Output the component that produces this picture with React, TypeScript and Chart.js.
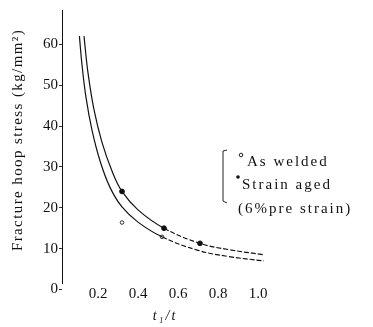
import React, { useEffect, useRef } from "react";
import { Chart, registerables } from "chart.js";

Chart.register(...registerables);

// Curve through "Strain aged (6% pre strain)" results (upper curve)
const strainAgedT = [0.13, 0.15, 0.18, 0.22, 0.27, 0.32, 0.4, 0.53, 0.71, 0.85, 1.03];
const strainAgedStress = [62, 53, 44, 36, 29, 24, 19.5, 15, 11.3, 9.8, 8.5];
// Curve through "As welded" results (lower curve)
const asWeldedT = [0.107, 0.12, 0.14, 0.17, 0.21, 0.26, 0.32, 0.4, 0.52, 0.7, 0.85, 1.03];
const asWeldedStress = [62, 55, 47, 39, 31.5, 25, 20.2, 16.5, 12.9, 9.6, 8.1, 7.0];
// Measured points
const strainAgedPointT = [0.32, 0.53, 0.71];
const strainAgedPointStress = [24, 15, 11.3];
const asWeldedPointT = [0.32, 0.52];
const asWeldedPointStress = [16.4, 12.9];

const xTicks = [0.2, 0.4, 0.6, 0.8, 1.0];
const yTicks = [0, 10, 20, 30, 40, 50, 60];

const yTitle = "Fracture hoop stress (kg/mm\u00B2)";
const xTitle = "t\u2081/t";
const legendLabels = ["As welded", "Strain aged", "(6%pre strain)"];

const SERIF = "'Liberation Serif', 'DejaVu Serif', serif";

const toXY = (xs: number[], ys: number[]) => xs.map((x, i) => ({ x, y: ys[i] }));

const decorPlugin = {
  id: "decor",
  afterDraw(chart: any) {
    const ctx = chart.ctx as CanvasRenderingContext2D;
    const area = chart.chartArea;
    ctx.save();
    ctx.fillStyle = "#111";
    ctx.strokeStyle = "#222";
    // y title
    ctx.font = `15px ${SERIF}`;
    (ctx as any).letterSpacing = "1.4px";
    ctx.textAlign = "center";
    ctx.textBaseline = "middle";
    ctx.save();
    ctx.translate(18, 140);
    ctx.rotate(-Math.PI / 2);
    ctx.fillText(yTitle, 0, 0);
    ctx.restore();
    // x title
    ctx.font = `italic 14px ${SERIF}`;
    (ctx as any).letterSpacing = "2px";
    ctx.fillText(xTitle, 165, 316);
    // legend
    const lx = area.right - 55;
    ctx.lineWidth = 1;
    ctx.beginPath();
    ctx.moveTo(lx + 4, 150);
    ctx.lineTo(lx, 151);
    ctx.lineTo(lx, 201);
    ctx.lineTo(lx + 4, 203);
    ctx.stroke();
    ctx.beginPath();
    ctx.arc(lx + 18, 155, 1.8, 0, Math.PI * 2);
    ctx.stroke();
    ctx.beginPath();
    ctx.arc(lx + 15, 177, 1.8, 0, Math.PI * 2);
    ctx.fill();
    ctx.font = `15px ${SERIF}`;
    (ctx as any).letterSpacing = "2px";
    ctx.textAlign = "left";
    ctx.textBaseline = "alphabetic";
    ctx.fillText(legendLabels[0], lx + 24, 166);
    ctx.fillText(legendLabels[1], lx + 19, 189);
    ctx.fillText(legendLabels[2], lx + 15, 213);
    ctx.restore();
  },
};

export default function App() {
  const ref = useRef<HTMLCanvasElement>(null);
  useEffect(() => {
    document.body.style.margin = "0";
    const dash = (c: any) => (c.p0.parsed.x > 0.5 ? [5, 2] : undefined);
    const chart = new Chart(ref.current!, {
      type: "scatter",
      data: {
        datasets: [
          {
            type: "line",
            data: toXY(strainAgedT, strainAgedStress),
            borderColor: "#111",
            borderWidth: 1.2,
            pointRadius: 0,
            tension: 0.4,
            segment: { borderDash: dash },
          } as any,
          {
            type: "line",
            data: toXY(asWeldedT, asWeldedStress),
            borderColor: "#111",
            borderWidth: 1.2,
            pointRadius: 0,
            tension: 0.4,
            segment: { borderDash: dash },
          } as any,
          {
            data: toXY(strainAgedPointT, strainAgedPointStress),
            pointRadius: 2.4,
            pointBackgroundColor: "#111",
            pointBorderColor: "#111",
          },
          {
            data: toXY(asWeldedPointT, asWeldedPointStress),
            pointRadius: 1.8,
            pointBackgroundColor: "#fff",
            pointBorderColor: "#333",
            pointBorderWidth: 1,
          },
        ],
      },
      options: {
        animation: false,
        responsive: false,
        layout: { padding: { top: 5, right: 95, left: 0, bottom: 0 } },
        plugins: { legend: { display: false }, tooltip: { enabled: false } },
        scales: {
          x: {
            type: "linear",
            min: 0.02,
            max: 1.1,
            grid: { display: false, drawTicks: false },
            border: { display: false },
            afterBuildTicks: (s: any) => {
              s.ticks = xTicks.map((v) => ({ value: v }));
            },
            afterFit: (s: any) => {
              s.height = 44;
            },
            ticks: {
              padding: 2,
              autoSkip: false,
              maxRotation: 0,
              color: "#111",
              font: { family: SERIF, size: 15 },
              callback: (v: any) => Number(v).toFixed(1),
            },
          },
          y: {
            type: "linear",
            min: 1.6,
            max: 68.4,
            grid: { drawOnChartArea: false, tickLength: 3, color: "#333" },
            border: { display: true, color: "#111", width: 1 },
            afterBuildTicks: (s: any) => {
              s.ticks = yTicks.map((v) => ({ value: v }));
            },
            afterFit: (s: any) => {
              s.width = 62;
            },
            ticks: {
              padding: 1,
              autoSkip: false,
              color: "#111",
              font: { family: SERIF, size: 15 },
            },
          },
        },
      },
      plugins: [decorPlugin],
    } as any);
    return () => chart.destroy();
  }, []);
  return (
    <div style={{ width: 373, height: 327, background: "#fff" }}>
      <canvas ref={ref} width={373} height={327} />
    </div>
  );
}
